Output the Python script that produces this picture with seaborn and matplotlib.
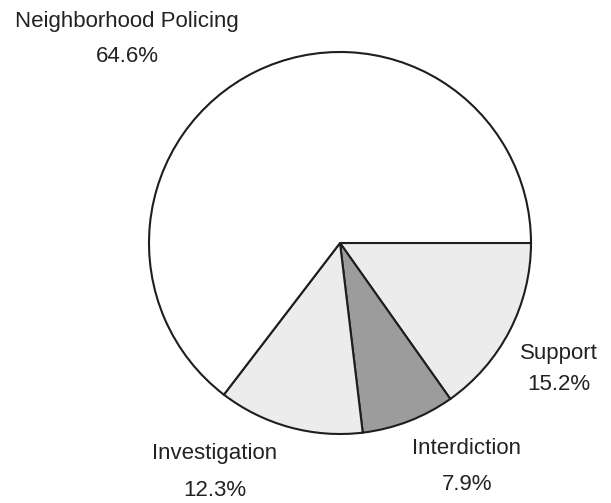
import matplotlib
matplotlib.use("Agg")
import matplotlib.pyplot as plt
import seaborn as sns

sns.set_theme(style="white")
plt.rcParams['font.family'] = ['Liberation Sans', 'DejaVu Sans']

# Budget shares by program, listed clockwise from 3 o'clock
categories = ["Support", "Interdiction", "Investigation", "Neighborhood Policing"]
shares = [15.2, 7.9, 12.3, 64.6]
fills = ["#ececec", "#9c9c9c", "#ececec", "#ffffff"]

fig = plt.figure(figsize=(6.11, 5.03), dpi=100)
fig.patch.set_facecolor("white")
ax = fig.add_axes([149 / 611, 69 / 503, 382 / 611, 382 / 503])

ax.pie(shares, colors=fills, startangle=0, counterclock=False, radius=1.0,
       wedgeprops=dict(edgecolor="#1e1e1e", linewidth=1.5))
ax.set_xlim(-1.0, 1.0)
ax.set_ylim(-1.0, 1.0)
ax.set_aspect("equal")
ax.axis("off")

# Label anchors in figure pixels (x from left, y from top)
label_pos = {
    "Support": (559, 353, 385),
    "Interdiction": (467, 449, 485),
    "Investigation": (215, 454, 490),
    "Neighborhood Policing": (127, 22, 57),
}
for name, val in zip(categories, shares):
    x, y1, y2 = label_pos[name]
    fig.text(x / 611, 1 - y1 / 503, name, ha="center", va="center",
             fontsize=16, color="#222222")
    fig.text(x / 611, 1 - y2 / 503, f"{val:.1f}%", ha="center", va="center",
             fontsize=16, color="#222222")

fig.savefig("out.png", dpi=100, facecolor="white")
